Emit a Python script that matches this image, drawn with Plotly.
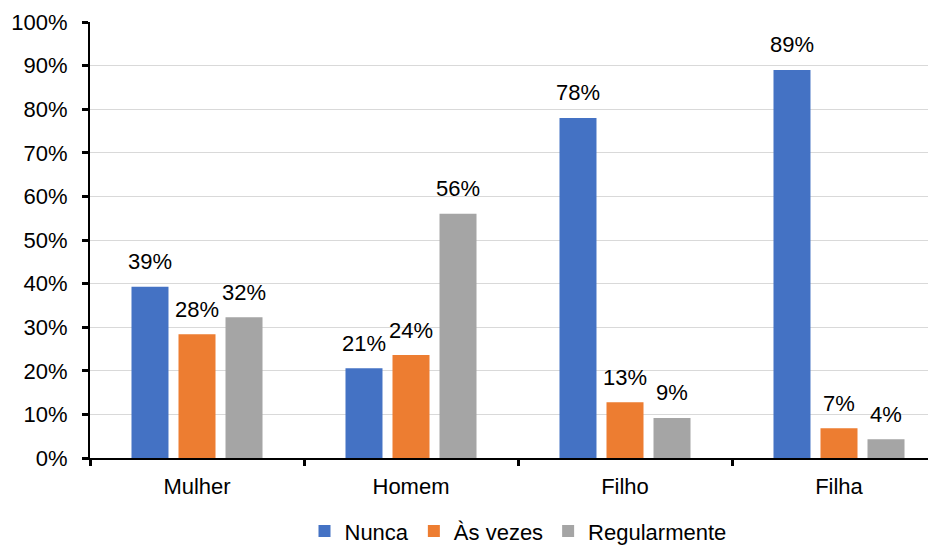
import plotly.graph_objects as go

categories = ["Mulher", "Homem", "Filho", "Filha"]
series_names = ["Nunca", "Às vezes", "Regularmente"]
nunca = [39.3, 20.6, 78.0, 89.0]
as_vezes = [28.4, 23.6, 12.8, 6.8]
regularmente = [32.3, 56.0, 9.2, 4.3]
colors = ["#4472C4", "#ED7D31", "#A5A5A5"]
y_ticks = [0, 10, 20, 30, 40, 50, 60, 70, 80, 90, 100]

values = [nunca, as_vezes, regularmente]
FONT = "Liberation Sans, Arial, sans-serif"
FS = 22

fig = go.Figure()
for name, vals, col in zip(series_names, values, colors):
    fig.add_trace(go.Bar(name=name, x=categories, y=vals, marker_color=col,
                         marker_line_width=0))

annotations = []
offsets = [-47, 0, 47]
for vals, off in zip(values, offsets):
    for c, v in zip(categories, vals):
        annotations.append(dict(x=c, y=v, xref="x", yref="y", text=f"{round(v)}%",
                                showarrow=False, xshift=off, yshift=25,
                                yanchor="middle", font=dict(size=FS, color="black", family=FONT)))

fig.update_layout(
    width=938, height=546,
    margin=dict(l=82, r=0, t=14, b=96, autoexpand=False),
    paper_bgcolor="white", plot_bgcolor="white",
    barmode="group", bargap=0.341, bargroupgap=0.213,
    font=dict(family=FONT, size=FS, color="black"),
    annotations=annotations,
    showlegend=True,
    legend=dict(orientation="h", x=0.5, xanchor="center", xref="paper",
                y=-0.168, yanchor="middle", font=dict(size=FS, color="black"),
                itemwidth=30, tracegroupgap=0),
    xaxis=dict(range=[-0.5, 3.5], showline=True, linecolor="black", linewidth=2,
               ticks="outside", tickson="boundaries", ticklen=6, tickwidth=2.5,
               tickcolor="black", showgrid=False, zeroline=False, ticklabelstandoff=8,
               automargin=False,
               tickfont=dict(size=FS, color="black", family=FONT)),
    yaxis=dict(range=[0, 100], tickvals=y_ticks, ticktext=[f"{t}%" for t in y_ticks],
               showline=True, linecolor="black", linewidth=2, ticks="outside",
               ticklen=6, tickwidth=2.5, tickcolor="black", ticklabelstandoff=10,
               showgrid=True, gridcolor="#D9D9D9", gridwidth=1, zeroline=False,
               automargin=False,
               tickfont=dict(size=FS, color="black", family=FONT)),
)

fig.write_html("out.html")
